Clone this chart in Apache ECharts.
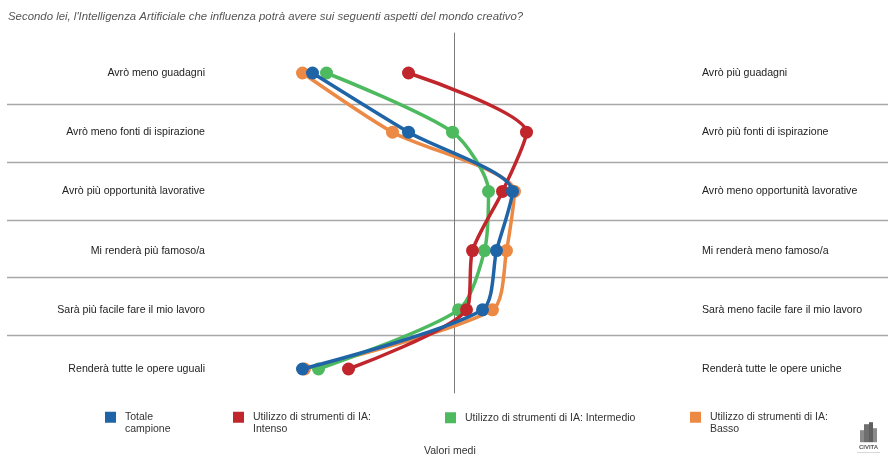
<!DOCTYPE html>
<html>
<head>
<meta charset="utf-8">
<script src="https://cdn.jsdelivr.net/npm/echarts@6/dist/echarts.min.js"></script>
<style>
  html, body { margin: 0; padding: 0; background: #fff; }
  #chart { width: 888px; height: 459px; }
</style>
</head>
<body>
<div id="chart"></div>
<script>
// Aspects of creative work: negative side on the left, positive side on the right
const leftLabels = [
  'Avrò meno guadagni',
  'Avrò meno fonti di ispirazione',
  'Avrò più opportunità lavorative',
  'Mi renderà più famoso/a',
  'Sarà più facile fare il mio lavoro',
  'Renderà tutte le opere uguali'
];
const rightLabels = [
  'Avrò più guadagni',
  'Avrò più fonti di ispirazione',
  'Avrò meno opportunità lavorative',
  'Mi renderà meno famoso/a',
  'Sarà meno facile fare il mio lavoro',
  'Renderà tutte le opere uniche'
];

// Mean values per group (0 = neutral, centre line)
const totale     = [-0.71, -0.23, 0.29, 0.21, 0.14, -0.76];
const intenso    = [-0.23,  0.36, 0.24, 0.09, 0.06, -0.53];
const intermedio = [-0.64, -0.01, 0.17, 0.15, 0.02, -0.68];
const basso      = [-0.76, -0.31, 0.30, 0.26, 0.19, -0.75];

const seriesNames = [
  'Totale campione',
  'Utilizzo di strumenti di IA: Intenso',
  'Utilizzo di strumenti di IA: Intermedio',
  'Utilizzo di strumenti di IA: Basso'
];
// Legend entry lines (wrapped as in the printed key)
const legendLines = {
  'Totale campione': ['Totale', 'campione'],
  'Utilizzo di strumenti di IA: Intenso': ['Utilizzo di strumenti di IA:', 'Intenso'],
  'Utilizzo di strumenti di IA: Intermedio': ['Utilizzo di strumenti di IA: Intermedio'],
  'Utilizzo di strumenti di IA: Basso': ['Utilizzo di strumenti di IA:', 'Basso']
};

const COLORS = {
  totale: '#1f64a6',
  intenso: '#c0262c',
  intermedio: '#4dba60',
  basso: '#ec8a45'
};

const X_MIN = -2.2375, X_MAX = 2.1675;
const FONT = '"Liberation Sans", Arial, sans-serif';

const hiddenX = (gridIndex) => ({
  type: 'value', gridIndex, min: X_MIN, max: X_MAX,
  show: false, splitLine: { show: false }
});

function lineSeries(name, data, color, z) {
  return {
    name, type: 'line', data,
    xAxisIndex: 1, yAxisIndex: 1,
    smooth: 0.25,
    symbol: 'circle', symbolSize: 13,
    lineStyle: { width: 3.5, color },
    itemStyle: { color },
    z
  };
}

function legendItem(name, left, top) {
  return {
    data: [name], left, top, padding: 0,
    icon: 'rect', itemWidth: 11, itemHeight: 11,
    selectedMode: false,
    // leading blank line keeps the first text line level with the swatch
    formatter: (n) => {
      const lines = legendLines[n].map((s) => '{t|' + s + '}');
      return lines.length > 1 ? '{t|}\n' + lines.join('\n') : lines[0];
    },
    textStyle: {
      fontFamily: FONT, fontSize: 10.5, color: '#333', lineHeight: 11.5,
      rich: { t: { fontFamily: FONT, fontSize: 10.5, color: '#333', lineHeight: 11.5, padding: [0, 0, 0, 4] } }
    }
  };
}

const chart = echarts.init(document.getElementById('chart'), null, { renderer: 'canvas' });

chart.setOption({
  animation: false,
  backgroundColor: '#ffffff',
  title: {
    text: "Secondo lei, l'Intelligenza Artificiale che influenza potrà avere sui seguenti aspetti del mondo creativo?",
    left: 8, top: 11, padding: 0,
    textStyle: { fontFamily: FONT, fontSize: 11.4, fontStyle: 'italic', fontWeight: 'normal', color: '#555' }
  },
  grid: [
    { left: 7, right: 0, top: 46.5, height: 346.5 },  // row bands and separators
    { left: 7, right: 0, top: 73, height: 296 },      // data points and labels
    { left: 7, right: 0, top: 33, height: 360 }       // neutral centre line
  ],
  xAxis: [hiddenX(0), hiddenX(1), hiddenX(2)],
  yAxis: [
    {
      type: 'category', gridIndex: 0, inverse: true,
      data: leftLabels.map(() => ''),
      boundaryGap: true,
      axisLine: { show: false, onZero: false },
      axisTick: { show: false }, axisLabel: { show: false },
      splitLine: {
        show: true, showMinLine: false, showMaxLine: false,
        lineStyle: { color: '#a8a8a8', width: 1.3 }
      }
    },
    {
      type: 'category', gridIndex: 1, inverse: true, position: 'left',
      data: leftLabels, boundaryGap: false,
      axisLine: { show: false, onZero: false }, axisTick: { show: false },
      splitLine: { show: false },
      axisLabel: { interval: 0, margin: -198, fontFamily: FONT, fontSize: 10.6, color: '#222' }
    },
    {
      type: 'category', gridIndex: 1, inverse: true, position: 'right',
      data: rightLabels, boundaryGap: false,
      axisLine: { show: false, onZero: false }, axisTick: { show: false },
      splitLine: { show: false },
      axisLabel: { interval: 0, margin: -186, fontFamily: FONT, fontSize: 10.6, color: '#222' }
    },
    {
      type: 'value', gridIndex: 2, min: 0, max: 1,
      axisLine: { show: true, onZero: true, lineStyle: { color: '#7a7a7a', width: 1 } },
      axisTick: { show: false }, axisLabel: { show: false }, splitLine: { show: false }
    }
  ],
  legend: [
    legendItem(seriesNames[0], 105, 400),
    legendItem(seriesNames[1], 233, 400),
    legendItem(seriesNames[2], 445, 412),
    legendItem(seriesNames[3], 690, 400)
  ],
  series: [
    lineSeries(seriesNames[3], basso, COLORS.basso, 2),
    lineSeries(seriesNames[2], intermedio, COLORS.intermedio, 3),
    lineSeries(seriesNames[1], intenso, COLORS.intenso, 4),
    lineSeries(seriesNames[0], totale, COLORS.totale, 5)
  ],
  graphic: [
    {
      type: 'text', left: 424, top: 446,
      style: { text: 'Valori medi', fontFamily: FONT, fontSize: 10.5, fill: '#333' }
    },
    {
      // CIVITA mark, bottom right
      type: 'group', right: 8, bottom: 6,
      children: [
        { type: 'rect', shape: { x: 4, y: 8, width: 4, height: 12 }, style: { fill: '#8a8a8a' } },
        { type: 'rect', shape: { x: 8, y: 2, width: 5, height: 18 }, style: { fill: '#6f6f6f' } },
        { type: 'rect', shape: { x: 13, y: 0, width: 4, height: 20 }, style: { fill: '#5f5f5f' } },
        { type: 'rect', shape: { x: 17, y: 6, width: 4, height: 14 }, style: { fill: '#8a8a8a' } },
        { type: 'text', style: { x: 12.5, y: 22, text: 'CIVITA', align: 'center', fontFamily: FONT, fontSize: 6, fontWeight: 'bold', fill: '#555' } },
        { type: 'rect', shape: { x: 1, y: 30, width: 23, height: 0.8 }, style: { fill: '#cfcfcf' } }
      ]
    }
  ]
});
</script>
</body>
</html>
